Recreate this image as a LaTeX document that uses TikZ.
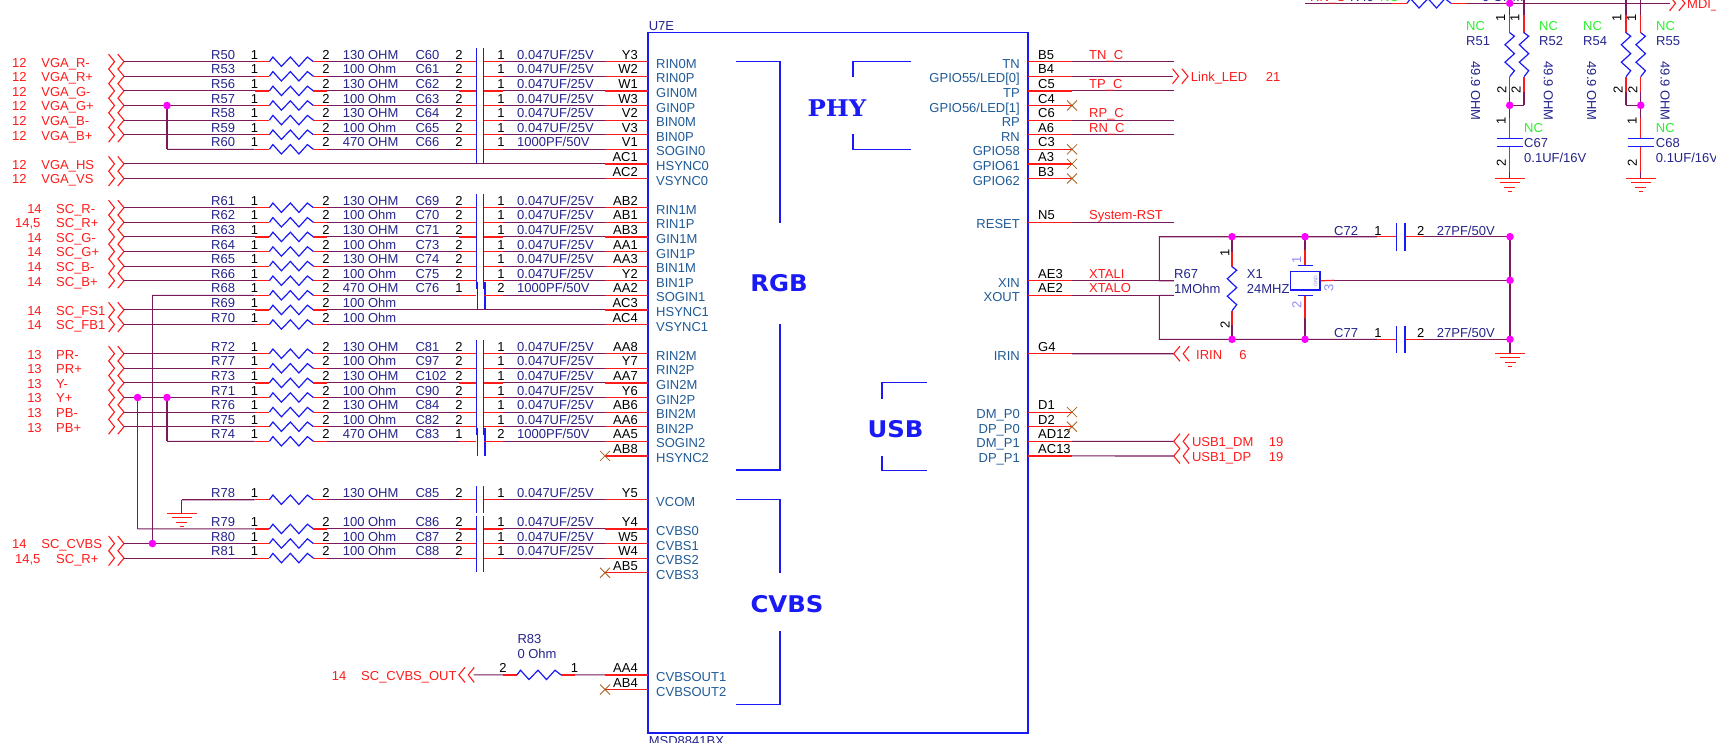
\documentclass[tikz,border=0pt]{standalone}
\usepackage{fontspec}
\setmainfont{Liberation Sans}
\newfontfamily\rgbfont{DejaVu Sans}
\newfontfamily\phyfont{DejaVu Serif}
\definecolor{netdark}{HTML}{7A1A5A}
\definecolor{pinred}{HTML}{FF1A1A}
\definecolor{partblue}{HTML}{1A1AF5}
\definecolor{refnavy}{HTML}{24248C}
\definecolor{pinsteel}{HTML}{1F5A96}
\definecolor{ncgreen}{HTML}{2EEE2E}
\definecolor{ncbrown}{HTML}{A8621E}
\definecolor{xtalblue}{HTML}{8C8CF5}
\definecolor{joinpink}{HTML}{FF00FF}
\tikzset{
  wire/.style={netdark,line width=1.1pt},
  stub/.style={pinred,line width=1.2pt},
  part/.style={partblue,line width=1.2pt},
  txt/.style={inner sep=0pt,font=\fontsize{13}{13}\selectfont},
  refd/.style={txt,refnavy,anchor=base west,yshift=2.5pt},
  pinno/.style={txt,black,anchor=base,yshift=2.5pt},
  pinnor/.style={txt,black,anchor=base east,yshift=2.5pt},
  pinnol/.style={txt,black,anchor=base west,yshift=2.5pt},
  pinname/.style={txt,pinsteel,anchor=base west,yshift=-6.5pt},
  pinnamer/.style={txt,pinsteel,anchor=base east,yshift=-6.5pt},
  sigtxt/.style={txt,pinred,anchor=base west,yshift=-5.3pt},
  signum/.style={txt,pinred,anchor=base,yshift=-5.3pt},
  nettxt/.style={txt,pinred,anchor=base west,yshift=2.5pt},
  free/.style={txt,refnavy,anchor=base west},
  vtxt/.style={txt,black,rotate=90,anchor=center},
  dot/.style={circle,fill=joinpink,inner sep=0pt,minimum size=7.6pt},
  blocktxt/.style={inner sep=0pt,partblue,xscale=1.06},
  zig/.pic={\draw[part,line join=miter] (0,0) -- (3.5pt,4.7pt) -- (12pt,-4.7pt) -- (21pt,4.7pt) -- (29.5pt,-4.7pt) -- (38pt,4.7pt) -- (44pt,0);},
  chev/.pic={\draw[pinred,line width=1.1pt] (-15.4pt,7.5pt) -- (-9.5pt,0) -- (-15.4pt,-7.5pt) (-6.2pt,7.5pt) -- (0,0) -- (-6.2pt,-7.5pt);},
  ncx/.pic={\draw[ncbrown,line width=.8pt] (-5pt,5pt) -- (5pt,-5pt) (-5pt,-5pt) -- (5pt,5pt);},
  gnd/.pic={\draw[pinred,line width=1.1pt] (-15pt,0) -- (15pt,0) (-10pt,-4.6pt) -- (10pt,-4.6pt) (-5.5pt,-9.2pt) -- (5.5pt,-9.2pt) (-2pt,-13.6pt) -- (2pt,-13.6pt);}
}
\newcommand{\capa}{0.047UF/25V}
\newcommand{\capb}{1000PF/50V}
% signal entry: row, number, its centre, name, its left edge
\newcommand{\signal}[5]{
  \pgfmathsetmacro{\ky}{61.7+14.6*#1}
  \coordinate (s#1) at (124,\ky);
  \pic at (s#1) {chev};
  \node[signum] (num#1) at (#3,\ky) {#2};
  \node[sigtxt] (sig#1) at (#5,\ky) {#4};
}
% pin on the left edge of U7E
\newcommand{\pinrow}[3]{
  \pgfmathsetmacro{\ky}{61.7+14.6*#1}
  \coordinate (p#1) at (605,\ky);
  \coordinate (q#1) at (648,\ky);
  \draw[stub] (p#1) -- (q#1);
  \node[pinnor] (pn#1) at (638,\ky) {#2};
  \node[pinname] (pname#1) at (656,\ky) {#3};
}
% resistor part of a row
\newcommand{\resrow}[3]{
  \pgfmathsetmacro{\ky}{61.7+14.6*#1}
  \coordinate (#2a) at (254.6,\ky);
  \coordinate (#2l) at (269.4,\ky);
  \coordinate (#2r) at (313.4,\ky);
  \coordinate (#2b) at (327.4,\ky);
  \draw[wire] (s#1) -- (#2a);
  \draw[stub] (#2a) -- (#2l);
  \pic at (#2l) {zig};
  \draw[stub] (#2r) -- (#2b);
  \node[refd] (#2n) at (211,\ky) {#2};
  \node[pinno] (#2x) at (254.6,\ky) {1};
  \node[pinno] (#2y) at (326,\ky) {2};
  \node[refd] (#2v) at (342.6,\ky) {#3};
}
% capacitor part of a row: row, resistor, cap, value, pin, pin
\newcommand{\caprow}[6]{
  \pgfmathsetmacro{\ky}{61.7+14.6*#1}
  \coordinate (#3a) at (459,\ky);
  \coordinate (#3l) at (476,\ky);
  \coordinate (#3r) at (484,\ky);
  \coordinate (#3b) at (503,\ky);
  \draw[wire] (#2b) -- (#3a);
  \draw[stub] (#3a) -- (#3l) (#3r) -- (#3b);
  \draw[wire] (#3b) -- (p#1);
  \node[refd] (#3n) at (415.4,\ky) {#3};
  \node[pinno] (#3x) at (459,\ky) {#5};
  \node[pinno] (#3y) at (501,\ky) {#6};
  \node[refd] (#3v) at (517,\ky) {#4};
}
\newcommand{\fullrow}[8]{
  \pinrow{#1}{#7}{#8}
  \resrow{#1}{#2}{#3}
  \caprow{#1}{#2}{#4}{#5}{#6}{1}
}
% pin on the right edge of U7E
\newcommand{\pinright}[3]{
  \pgfmathsetmacro{\ky}{61.7+14.6*#1}
  \coordinate (e#1) at (1028,\ky);
  \coordinate (f#1) at (1072,\ky);
  \draw[stub] (e#1) -- (f#1);
  \node[pinnol] (en#1) at (1038,\ky) {#2};
  \node[pinnamer] (ename#1) at (1020,\ky) {#3};
}
\newcommand{\netrow}[2]{
  \pgfmathsetmacro{\ky}{61.7+14.6*#1}
  \coordinate (g#1) at (1174,\ky);
  \draw[wire] (f#1) -- (g#1);
  \node[nettxt] (net#1) at (1089,\ky) {#2};
}
% vertical resistor hanging from the top row: name, x, top
\newcommand{\vres}[3]{
  \coordinate (#1t) at (#2,#3);
  \coordinate (#1a) at (#2,15);
  \coordinate (#1l) at (#2,32.7);
  \coordinate (#1r) at (#2,76.7);
  \coordinate (#1b) at (#2,92);
  \coordinate (#1e) at (#2,105.3);
  \draw[wire] (#1t) -- (#1a) (#1b) -- (#1e);
  \draw[stub] (#1a) -- (#1l) (#1r) -- (#1b);
  \pic[rotate=-90] at (#1l) {zig};
  \node[vtxt] (#1x) at ({#2-9},18) {1};
  \node[vtxt] (#1y) at ({#2-8},90) {2};
}
\newcommand{\vcap}[2]{
  \coordinate (#1t) at (#2,105.3);
  \coordinate (#1a) at (#2,118);
  \coordinate (#1l) at (#2,138.3);
  \coordinate (#1r) at (#2,146.7);
  \coordinate (#1b) at (#2,172);
  \coordinate (#1e) at (#2,178.3);
  \draw[wire] (#1t) -- (#1a) (#1b) -- (#1e);
  \draw[stub] (#1a) -- (#1l) (#1r) -- (#1b);
  \draw[part] ({#2-13},138.3) -- ({#2+13},138.3) ({#2-13},146.7) -- ({#2+13},146.7);
  \pic at (#1e) {gnd};
  \node[vtxt] (#1x) at ({#2-8.5},120.7) {1};
  \node[vtxt] (#1y) at ({#2-8.5},163.3) {2};
}
\begin{document}
\begin{tikzpicture}[x=1pt,y=-1pt]
\useasboundingbox (0,0) rectangle (1716,742);
\clip (0,0) rectangle (1716,742);
% U7E outline and its block marks
\draw[part] (648,32.5) rectangle (1028,733);
\node[free] (u7e) at (648.6,30) {U7E};
\node[free] (msd) at (648.6,745) {MSD8841BX};
\draw[part] (736,61.7) -- (780,61.7) -- (780,223.3);
\draw[part] (780,324) -- (780,470) -- (736,470);
\draw[part] (736,499.7) -- (780,499.7) -- (780,572.7);
\draw[part] (780,631) -- (780,704.3) -- (736,704.3);
\draw[part] (911.4,61.7) -- (853,61.7) -- (853,77.3);
\draw[part] (853,134.3) -- (853,149.3) -- (911.4,149.3);
\draw[part] (926.6,382.7) -- (882,382.7) -- (882,398.7);
\draw[part] (882,456) -- (882,470.7) -- (926.6,470.7);
\node[blocktxt,font=\rgbfont\bfseries\fontsize{23}{23}\selectfont] (rgb) at (779,283) {RGB};
\node[blocktxt,font=\rgbfont\bfseries\fontsize{23}{23}\selectfont] (cvbs) at (787,604.3) {CVBS};
\node[blocktxt,font=\rgbfont\bfseries\fontsize{23}{23}\selectfont] (usb) at (895.5,429.3) {USB};
\node[blocktxt,font=\phyfont\bfseries\fontsize{23}{23}\selectfont] (phy) at (837,108) {PHY};
% cap plates
\foreach \ya/\yb in {48.3/162.7,194/288.7,340/434.7,486/512.7,515.7/571.7}{
  \draw[part] (476.4,\ya) -- (476.4,\yb) (483.6,\ya) -- (483.6,\yb);
}
\foreach \ya/\yb in {281.7/309.3,427.7/455.7}{
  \draw[part] (477.8,\ya) -- (477.8,\yb) (485,\ya) -- (485,\yb);
}
% VGA
\signal{0}{12}{19.4}{VGA\_R-}{41.2}
\signal{1}{12}{19.4}{VGA\_R+}{41.2}
\signal{2}{12}{19.4}{VGA\_G-}{41.2}
\signal{3}{12}{19.4}{VGA\_G+}{41.2}
\signal{4}{12}{19.4}{VGA\_B-}{41.2}
\signal{5}{12}{19.4}{VGA\_B+}{41.2}
\signal{7}{12}{19.4}{VGA\_HS}{41.2}
\signal{8}{12}{19.4}{VGA\_VS}{41.2}
\coordinate (s6) at (167,149.3);
\fullrow{0}{R50}{130 OHM}{C60}{\capa}{2}{Y3}{RIN0M}
\fullrow{1}{R53}{100 Ohm}{C61}{\capa}{2}{W2}{RIN0P}
\fullrow{2}{R56}{130 OHM}{C62}{\capa}{2}{W1}{GIN0M}
\fullrow{3}{R57}{100 Ohm}{C63}{\capa}{2}{W3}{GIN0P}
\fullrow{4}{R58}{130 OHM}{C64}{\capa}{2}{V2}{BIN0M}
\fullrow{5}{R59}{100 Ohm}{C65}{\capa}{2}{V3}{BIN0P}
\fullrow{6}{R60}{470 OHM}{C66}{\capb}{2}{V1}{SOGIN0}
\pinrow{7}{AC1}{HSYNC0}
\pinrow{8}{AC2}{VSYNC0}
\draw[wire] (s7) -- (p7);
\draw[wire] (s8) -- (p8);
\coordinate (j3) at (167,105.5);
\draw[wire] (j3) -- (s6);
\node[dot] (dot3) at (j3) {};
% SCART
\signal{10}{14}{34.5}{SC\_R-}{56}
\signal{11}{14,5}{27.8}{SC\_R+}{56}
\signal{12}{14}{34.5}{SC\_G-}{56}
\signal{13}{14}{34.5}{SC\_G+}{56}
\signal{14}{14}{34.5}{SC\_B-}{56}
\signal{15}{14}{34.5}{SC\_B+}{56}
\signal{17}{14}{34.5}{SC\_FS1}{56}
\signal{18}{14}{34.5}{SC\_FB1}{56}
\coordinate (s16) at (152.4,295.3);
\fullrow{10}{R61}{130 OHM}{C69}{\capa}{2}{AB2}{RIN1M}
\fullrow{11}{R62}{100 Ohm}{C70}{\capa}{2}{AB1}{RIN1P}
\fullrow{12}{R63}{130 OHM}{C71}{\capa}{2}{AB3}{GIN1M}
\fullrow{13}{R64}{100 Ohm}{C73}{\capa}{2}{AA1}{GIN1P}
\fullrow{14}{R65}{130 OHM}{C74}{\capa}{2}{AA3}{BIN1M}
\fullrow{15}{R66}{100 Ohm}{C75}{\capa}{2}{Y2}{BIN1P}
\pinrow{16}{AA2}{SOGIN1}
\resrow{16}{R68}{470 OHM}
\caprow{16}{R68}{C76}{\capb}{1}{2}
\pinrow{17}{AC3}{HSYNC1}
\resrow{17}{R69}{100 Ohm}
\draw[wire] (R69b) -- (p17);
\pinrow{18}{AC4}{VSYNC1}
\resrow{18}{R70}{100 Ohm}
\draw[wire] (R70b) -- (p18);
% YPbPr
\signal{20}{13}{34.5}{PR-}{56}
\signal{21}{13}{34.5}{PR+}{56}
\signal{22}{13}{34.5}{Y-}{56}
\signal{23}{13}{34.5}{Y+}{56}
\signal{24}{13}{34.5}{PB-}{56}
\signal{25}{13}{34.5}{PB+}{56}
\coordinate (s26) at (167,441.3);
\fullrow{20}{R72}{130 OHM}{C81}{\capa}{2}{AA8}{RIN2M}
\fullrow{21}{R77}{100 Ohm}{C97}{\capa}{2}{Y7}{RIN2P}
\fullrow{22}{R73}{130 OHM}{C102}{\capa}{2}{AA7}{GIN2M}
\fullrow{23}{R71}{100 Ohm}{C90}{\capa}{2}{Y6}{GIN2P}
\fullrow{24}{R76}{130 OHM}{C84}{\capa}{2}{AB6}{BIN2M}
\fullrow{25}{R75}{100 Ohm}{C82}{\capa}{2}{AA6}{BIN2P}
\pinrow{26}{AA5}{SOGIN2}
\resrow{26}{R74}{470 OHM}
\caprow{26}{R74}{C83}{\capb}{1}{2}
\pinrow{27}{AB8}{HSYNC2}
\pic at (p27) {ncx};
% CVBS
\coordinate (s30) at (181.8,499.7);
\coordinate (s32) at (137.6,528.9);
\signal{33}{14}{19.4}{SC\_CVBS}{41.2}
\signal{34}{14,5}{27.8}{SC\_R+}{56}
\fullrow{30}{R78}{130 OHM}{C85}{\capa}{2}{Y5}{VCOM}
\fullrow{32}{R79}{100 Ohm}{C86}{\capa}{2}{Y4}{CVBS0}
\fullrow{33}{R80}{100 Ohm}{C87}{\capa}{2}{W5}{CVBS1}
\fullrow{34}{R81}{100 Ohm}{C88}{\capa}{2}{W4}{CVBS2}
\pinrow{35}{AB5}{CVBS3}
\pic at (p35) {ncx};
\coordinate (gndv) at (181.8,513.3);
\draw[wire] (s30) -- (gndv);
\pic at (gndv) {gnd};
\coordinate (j23a) at (137.6,397.5);
\coordinate (j23b) at (167,397.5);
\coordinate (j33) at (152.4,543.5);
\draw[wire] (j23a) -- (s32);
\draw[wire] (j23b) -- (s26);
\draw[wire] (s16) -- (j33);
\node[dot] (dot23a) at (j23a) {};
\node[dot] (dot23b) at (j23b) {};
\node[dot] (dot33) at (j33) {};
% CVBS out
\pinrow{42}{AA4}{CVBSOUT1}
\pinrow{43}{AB4}{CVBSOUT2}
\pic at (p43) {ncx};
\coordinate (oc) at (458.8,674.9);
\coordinate (oe) at (473.5,674.9);
\coordinate (oa) at (503,674.9);
\coordinate (ol) at (517,674.9);
\coordinate (or) at (561,674.9);
\coordinate (ob) at (575,674.9);
\draw[wire] (oe) -- (oa) (ob) -- (p42);
\draw[stub] (oa) -- (ol) (or) -- (ob);
\pic at (ol) {zig};
\pic[xscale=-1] at (oc) {chev};
\node[free] (R83) at (517.3,643) {R83};
\node[free] (R83v) at (517.3,658) {0 Ohm};
\node[pinno] (R83x) at (503,674.9) {2};
\node[pinno] (R83y) at (574.5,674.9) {1};
\node[signum] (outn) at (339,674.9) {14};
\node[sigtxt] (outs) at (361,674.9) {SC\_CVBS\_OUT};
% right side pins
\pinright{0}{B5}{TN}
\pinright{1}{B4}{GPIO55/LED[0]}
\pinright{2}{C5}{TP}
\pinright{3}{C4}{GPIO56/LED[1]}
\pinright{4}{C6}{RP}
\pinright{5}{A6}{RN}
\pinright{6}{C3}{GPIO58}
\pinright{7}{A3}{GPIO61}
\pinright{8}{B3}{GPIO62}
\pinright{11}{N5}{RESET}
\pinright{15}{AE3}{XIN}
\pinright{16}{AE2}{XOUT}
\pinright{20}{G4}{IRIN}
\pinright{24}{D1}{DM\_P0}
\pinright{25}{D2}{DP\_P0}
\pinright{26}{AD12}{DM\_P1}
\pinright{27}{AC13}{DP\_P1}
\netrow{0}{TN\_C}
\netrow{2}{TP\_C}
\netrow{4}{RP\_C}
\netrow{5}{RN\_C}
\netrow{11}{System-RST}
\netrow{15}{XTALI}
\netrow{16}{XTALO}
\foreach \k in {3,6,7,8,24,25}{\pic at (f\k) {ncx};}
% off page nets on the right
\coordinate (lk) at (1173,76.3);
\coordinate (lkt) at (1188,76.3);
\draw[wire] (f1) -- (lk);
\pic at (lkt) {chev};
\node[sigtxt] (lkn) at (1190.7,76.3) {Link\_LED};
\node[signum] (lkp) at (1273,76.3) {21};
\coordinate (ir) at (1173.7,353.7);
\draw[wire] (f20) -- (ir);
\pic[xscale=-1] at (ir) {chev};
\node[sigtxt] (irn) at (1196,353.7) {IRIN};
\node[signum] (irp) at (1243,353.7) {6};
\coordinate (ud) at (1173.7,441.3);
\draw[wire] (f26) -- (ud);
\pic[xscale=-1] at (ud) {chev};
\node[sigtxt] (udn) at (1191.8,441.3) {USB1\_DM};
\node[signum] (udp) at (1276,441.3) {19};
\coordinate (up) at (1173.7,456);
\draw[wire] (f27) -- (up);
\pic[xscale=-1] at (up) {chev};
\node[sigtxt] (upn) at (1191.8,456) {USB1\_DP};
\node[signum] (upp) at (1276,456) {19};
% crystal
\coordinate (xa) at (1159.3,280.7);
\coordinate (xb) at (1159.3,236.7);
\coordinate (xc) at (1159.3,295.3);
\coordinate (xd) at (1159.3,339.3);
\coordinate (j1) at (1232,236.7);
\coordinate (j2) at (1305,236.7);
\coordinate (j3t) at (1510,236.7);
\coordinate (j4) at (1232,339.3);
\coordinate (j5) at (1305,339.3);
\coordinate (j6) at (1510,339.3);
\coordinate (j7) at (1510,280.3);
\draw[wire] (g15) -- (xa) -- (xb) -- (j1) -- (j2) -- (1377,236.7);
\draw[wire] (g16) -- (xc) -- (xd) -- (j4) -- (j5) -- (1377,339.3);
\draw[stub] (1377,236.7) -- (1396.7,236.7) (1405,236.7) -- (1422.7,236.7);
\draw[stub] (1377,339.3) -- (1396.7,339.3) (1405,339.3) -- (1422.7,339.3);
\draw[wire] (1422.7,236.7) -- (j3t) -- (j7) -- (j6) -- (1422.7,339.3);
\draw[part] (1396.7,223) -- (1396.7,250.7) (1405,223) -- (1405,250.7);
\draw[part] (1396.7,325.7) -- (1396.7,352.7) (1405,325.7) -- (1405,352.7);
\coordinate (gndx) at (1510,353.3);
\draw[wire] (j6) -- (gndx);
\pic at (gndx) {gnd};
\draw[stub] (1232,251.7) -- (1232,266.7) (1232,310.7) -- (1232,325);
\draw[wire] (j1) -- (1232,251.7) (1232,325) -- (j4);
\pic[rotate=-90] at (1232,266.7) {zig};
\node[free] (R67) at (1174,278) {R67};
\node[free] (R67v) at (1174,293) {1MOhm};
\node[free] (X1) at (1246.7,278) {X1};
\node[free] (X1v) at (1246.7,293) {24MHZ};
\node[vtxt] (R67x) at (1225,252.7) {1};
\node[vtxt] (R67y) at (1225,325) {2};
\node[draw=partblue,line width=1.4pt,minimum width=29.3pt,minimum height=18.3pt,inner sep=0pt] (X1b) at (1305.3,280.8) {};
\draw[wire] (j2) -- (1305,250);
\draw[stub] (1305,250) -- (1305,265.7);
\draw[part] (1297.7,265.7) -- (1313.3,265.7);
\draw[part] (1297.7,295.7) -- (1313.3,295.7);
\draw[stub] (1305,295.7) -- (1305,318);
\draw[wire] (1305,318) -- (j5);
\draw[stub] (X1b.east) -- (1334,280.3);
\draw[wire] (1334,280.3) -- (j7);
\node[txt,xtalblue,rotate=90] (X1x) at (1296.7,260) {1};
\node[txt,xtalblue,rotate=90] (X1y) at (1296.7,305) {2};
\node[txt,xtalblue,rotate=90] (X1z) at (1329,288) {3};
\node[inner sep=0pt,xtalblue,rotate=90,font=\fontsize{5}{5}\selectfont] (X1g) at (1315.7,281) {GND};
\foreach \j in {j1,j2,j3t,j4,j5,j6,j7}{\node[dot] at (\j) {};}
\node[free] (C72) at (1334,235) {C72};
\node[txt,black,anchor=base] (C72x) at (1378,235) {1};
\node[txt,black,anchor=base] (C72y) at (1420.7,235) {2};
\node[free] (C72v) at (1436.7,235) {27PF/50V};
\node[free] (C77) at (1334,337) {C77};
\node[txt,black,anchor=base] (C77x) at (1378,337) {1};
\node[txt,black,anchor=base] (C77y) at (1420.7,337) {2};
\node[free] (C77v) at (1436.7,337) {27PF/50V};
% top right corner
\coordinate (tl) at (1305,3.3);
\coordinate (tj) at (1509.7,3.3);
\coordinate (te) at (1670,3.3);
\coordinate (tc) at (1685,3.3);
\draw[wire] (tl) -- (1392,3.3) (1467,3.3) -- (te);
\draw[stub] (1392,3.3) -- (1407,3.3) (1451,3.3) -- (1467,3.3);
\pic at (1407,3.3) {zig};
\pic at (tc) {chev};
\node[txt,pinred,anchor=base west] (tn) at (1310,1.5) {RN\_C};
\node[free] (R49) at (1350,1.5) {R49};
\node[txt,ncgreen,anchor=base west] (R49c) at (1380,1.5) {NC};
\node[free] (R49v) at (1482,1.5) {0 OHM};
\node[txt,pinred,anchor=base west] (mdi) at (1687,8.6) {MDI\_};
\vres{R51}{1509.7}{3.3}
\vres{R52}{1524}{0}
\vres{R54}{1626}{0}
\vres{R55}{1640.7}{0}
\draw[wire] (R52e) -- (R51e) (R54e) -- (R55e);
\vcap{C67}{1509.7}
\vcap{C68}{1640.7}
\node[dot] at (tj) {};
\node[dot] at (R51e) {};
\node[dot] at (R55e) {};
\foreach \nm/\xa/\xb in {R51/1466/1475.7,R52/1539/1548.3,R54/1583/1591.7,R55/1656/1665}{
  \node[txt,ncgreen,anchor=base west] (\nm c) at (\xa,30) {NC};
  \node[free] (\nm n) at (\xa,45) {\nm};
  \node[txt,refnavy,rotate=-90] (\nm v) at (\xb,91.2) {49.9 OHM};
}
\foreach \nm/\xa in {C67/1524,C68/1655.7}{
  \node[txt,ncgreen,anchor=base west] (\nm c) at (\xa,132.7) {NC};
  \node[free] (\nm n) at (\xa,147) {\nm};
  \node[free] (\nm v) at (\xa,162) {0.1UF/16V};
}
\end{tikzpicture}
\end{document}
